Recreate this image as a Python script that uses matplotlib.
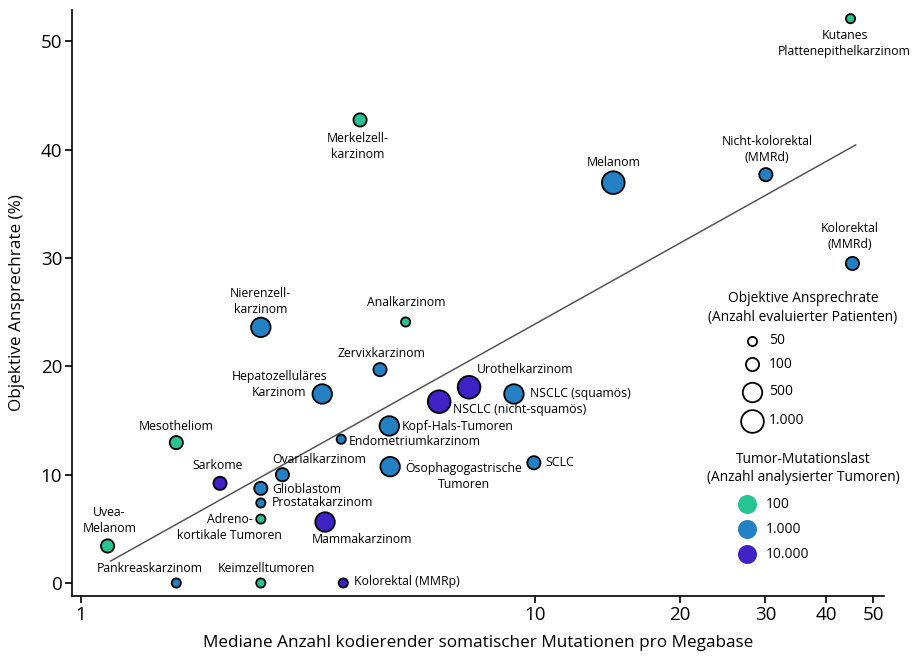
import matplotlib.pyplot as plt
import numpy as np

plt.rcParams['font.family'] = ['Open Sans', 'DejaVu Sans']

# data
tumoren = [
    'Kutanes\nPlattenepithelkarzinom', 'Merkelzell-\nkarzinom', 'Melanom',
    'Nicht-kolorektal\n(MMRd)', 'Kolorektal\n(MMRd)', 'Nierenzell-\nkarzinom',
    'Analkarzinom', 'Zervixkarzinom', 'Hepatozelluläres\nKarzinom',
    'NSCLC (nicht-squamös)', 'Urothelkarzinom', 'NSCLC (squamös)',
    'Kopf-Hals-Tumoren', 'Endometriumkarzinom', 'Mesotheliom',
    'Ovarialkarzinom', 'Ösophagogastrische\nTumoren', 'SCLC', 'Sarkome',
    'Glioblastom', 'Prostatakarzinom', 'Adreno-\nkortikale Tumoren',
    'Mammakarzinom', 'Uvea-\nMelanom', 'Pankreaskarzinom', 'Keimzelltumoren',
    'Kolorektal (MMRp)',
]
mutationen = [44.9, 4.27, 14.54, 30.06, 45.3, 2.60, 5.34, 4.71, 3.54,
              6.29, 7.27, 9.03, 4.93, 3.89, 1.68, 2.90, 4.95, 9.94, 2.11,
              2.60, 2.60, 2.60, 3.59, 1.16, 1.68, 2.60, 3.93]
ansprechrate = [52.1, 42.75, 36.96, 37.7, 29.5, 23.6, 24.1, 19.7, 17.45,
                16.74, 18.07, 17.45, 14.5, 13.27, 12.96, 10.0, 10.74, 11.1,
                9.2, 8.74, 7.39, 5.9, 5.63, 3.42, 0.0, 0.0, 0.0]
patienten = [50, 100, 1000, 100, 100, 500, 50, 100, 500, 1000, 1000, 500,
             500, 50, 100, 100, 500, 100, 100, 100, 50, 50, 500, 100, 50,
             50, 50]
analysiert = [100, 100, 1000, 1000, 1000, 1000, 100, 1000, 1000, 10000,
              10000, 1000, 1000, 1000, 100, 1000, 1000, 1000, 10000, 1000,
              1000, 100, 10000, 100, 1000, 100, 10000]

trend_x = [1.18, 46.0]
trend_y = [2.03, 40.44]

x_ticks = [1, 10, 20, 30, 40, 50]
y_ticks = [0, 10, 20, 30, 40, 50]

# label offsets from the point (pixels) and alignment
label_pos = [
    (-6, -25, 'center'), (-2, -27, 'center'), (0, 20, 'center'),
    (1, 25, 'center'), (-3, 27, 'center'), (0, 26, 'center'),
    (1, 19, 'center'), (1, 16, 'center'), (-43, 9, 'center'),
    (14, -8, 'left'), (8, 18, 'left'), (16, 0, 'left'),
    (12, -1, 'left'), (8, -2, 'left'), (0, 16, 'center'),
    (37, 15, 'center'), (74, -9, 'center'), (11, 0, 'left'),
    (-2, 18, 'center'), (11, -1, 'left'), (11, 0, 'left'),
    (-31, -8, 'center'), (37, -17, 'center'), (2, 25, 'center'),
    (-27, 15, 'center'), (6, 15, 'center'), (11, 2, 'left'),
]

farben = {100: '#26c493', 1000: '#2280c3', 10000: '#3f22c5'}
durchm = {50: 11, 100: 15, 500: 21.3, 1000: 24.5}  # px incl. edge
rand = 1.3
px = 0.72


def flaeche(n):
    return (durchm[n] * px - rand) ** 2


fig = plt.figure(figsize=(9.2, 6.64), dpi=100)
ax = fig.add_axes([72 / 920, 1 - 596 / 664, 812 / 920, 586 / 664])

ax.set_xscale('function', functions=(lambda v: np.log10(v + 0.2),
                                     lambda v: 10 ** v - 0.2))
ax.set_xlim(0.95, 52.6)
ax.set_ylim(-1.2, 52.9)

ax.plot(trend_x, trend_y, color='#555555', lw=1.1, zorder=1)

ax.scatter(mutationen, ansprechrate,
           s=[flaeche(n) for n in patienten],
           c=[farben[a] for a in analysiert],
           edgecolors='black', linewidths=rand, zorder=3, clip_on=False)

for name, x, y, (dx, dy, ha) in zip(tumoren, mutationen, ansprechrate, label_pos):
    ax.annotate(name, (x, y), xytext=(dx * px, dy * px),
                textcoords='offset points', ha=ha, va='center',
                fontsize=8.8, linespacing=1.3, multialignment='center')

ax.set_xticks(x_ticks)
ax.set_xticklabels([str(t) for t in x_ticks])
ax.xaxis.set_minor_locator(plt.NullLocator())
ax.set_yticks(y_ticks)
ax.tick_params(labelsize=13.5, length=5, width=1.2, direction='out', pad=2)

for s in ['top', 'right']:
    ax.spines[s].set_visible(False)
for s in ['left', 'bottom']:
    ax.spines[s].set_linewidth(1.2)

ax.set_xlabel('Mediane Anzahl kodierender somatischer Mutationen pro Megabase',
              fontsize=12.3, labelpad=8)
ax.set_ylabel('Objektive Ansprechrate (%)', fontsize=12.3, labelpad=11)


def fpos(x, y):
    return x / 920, 1 - y / 664


# size legend
fig.text(*fpos(803, 308), 'Objektive Ansprechrate\n(Anzahl evaluierter Patienten)',
         ha='center', va='center', fontsize=9.9, linespacing=1.3)
for n, ly, lab in zip([50, 100, 500, 1000], [341, 364.3, 391.7, 420.7],
                      ['50', '100', '500', '1.000']):
    ax.scatter(*fpos(751.7, ly), s=flaeche(n), facecolor='white',
               edgecolor='black', linewidths=rand, transform=fig.transFigure,
               clip_on=False)
    fig.text(*fpos(769, ly), lab, ha='left', va='center', fontsize=9.9)

# colour legend
fig.text(*fpos(803, 468.5), 'Tumor-Mutationslast\n(Anzahl analysierter Tumoren)',
         ha='center', va='center', fontsize=9.9, linespacing=1.3)
for a, ly, lab in zip([100, 1000, 10000], [504.3, 529.3, 554.3],
                      ['100', '1.000', '10.000']):
    ax.scatter(*fpos(747.3, ly), s=(19 * px) ** 2, color=farben[a],
               linewidths=0, transform=fig.transFigure, clip_on=False)
    fig.text(*fpos(766, ly), lab, ha='left', va='center', fontsize=9.9)

fig.savefig('out.png', dpi=100)
